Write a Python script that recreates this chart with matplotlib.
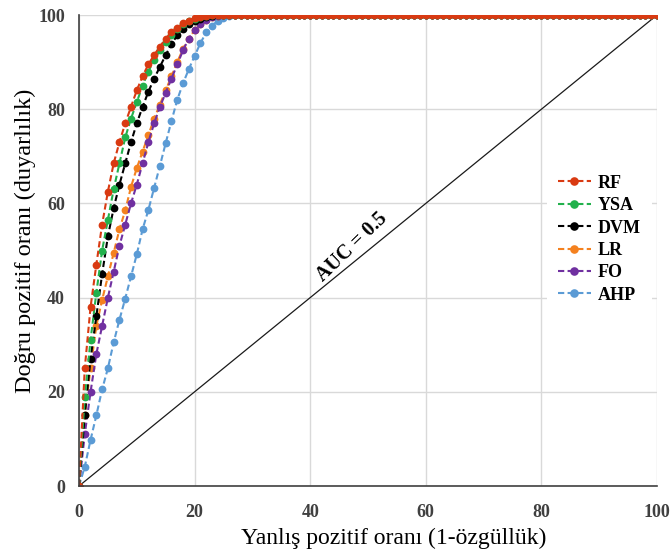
import matplotlib
matplotlib.use("Agg")
import matplotlib.pyplot as plt
from matplotlib.lines import Line2D

# False positive rate (%) sampled at every integer step
fpr = list(range(0, 101))

# True positive rate (%) for each model; curves saturate at 100 after ~x=28
tail = 100.0
rf = [0, 25, 38, 47, 55.5, 62.5, 68.5, 73, 77, 80.5, 84, 87, 89.5, 91.5, 93.3,
      95, 96.3, 97.3, 98.2, 98.8, 99.3, 99.6, 99.8, 99.9, 100, 100, 100, 100, 100]
ysa = [0, 19, 31, 41, 50, 56.5, 63, 68.5, 74, 78, 81.5, 85, 88, 90.5, 92.5,
       94.3, 95.8, 97, 98, 98.7, 99.2, 99.6, 99.8, 99.9, 100, 100, 100, 100, 100]
dvm = [0, 15, 27, 36, 45, 53, 59, 64, 68.5, 73, 77, 80.5, 83.7, 86.5, 89,
       91.5, 93.8, 95.7, 97, 98, 98.7, 99.2, 99.6, 99.8, 99.9, 100, 100, 100, 100]
lr = [0, 15, 25, 34, 39.5, 44.5, 49.5, 54.5, 58.5, 63.5, 67.5, 71, 74.5, 78, 81,
      84, 87, 90, 92.8, 95, 96.8, 98, 99, 99.5, 99.8, 100, 100, 100, 100]
fo = [0, 11, 20, 28, 34, 40, 45.5, 51, 55.5, 60, 64, 68.5, 73, 77, 80.5,
      83.5, 86.5, 89.5, 92.5, 95, 96.8, 98, 99, 99.5, 99.8, 100, 100, 100, 100]
ahp = [0, 4.1, 9.8, 15, 20.5, 25, 30.5, 35.3, 39.8, 44.5, 49.2, 54.5, 58.6, 63.3, 68,
       72.8, 77.5, 82, 85.5, 88.5, 91.3, 94, 96.3, 97.7, 98.8, 99.4, 99.7, 99.9, 100]

series_names = ["RF", "YSA", "DVM", "LR", "FO", "AHP"]
series_vals = [rf, ysa, dvm, lr, fo, ahp]
series_vals = [v + [tail] * (len(fpr) - len(v)) for v in series_vals]
colors = ["#d93a12", "#22b14c", "#000000", "#f4811f", "#7030a0", "#5b9bd5"]
z_order = [8, 7, 6, 4, 5, 3]

ticks = [0, 20, 40, 60, 80, 100]
diag = [0, 100]

plt.rcParams["font.family"] = ["Liberation Serif", "DejaVu Serif"]

fig = plt.figure(figsize=(6.7, 5.54), dpi=100)
ax = fig.add_axes([0.1179, 0.1227, 0.8627, 0.8502])

dash = (0, (3, 1.6))
for name, vals, c, z in zip(series_names, series_vals, colors, z_order):
    ax.plot(fpr, vals, color=c, linestyle=dash, linewidth=1.5,
            marker="o", markersize=5.6, markeredgewidth=0, zorder=z)

# Chance line
ax.plot(diag, diag, color="#1a1a1a", linewidth=0.9, zorder=2)
ax.text(47.2, 50.8, "AUC = 0.5", fontsize=14.5, fontweight="bold",
        rotation=44, rotation_mode="anchor",
        ha="center", va="center", zorder=9)

ax.set_xlim(0, 100)
ax.set_ylim(0, 100)
ax.set_xticks(ticks)
ax.set_yticks(ticks)
ax.set_xticklabels([str(t) for t in ticks], fontsize=13, fontweight="bold",
                   color="#404040")
ax.set_yticklabels([str(t) for t in ticks], fontsize=13, fontweight="bold",
                   color="#404040")
ax.tick_params(axis="x", length=0, pad=13)
ax.tick_params(axis="y", length=0, pad=10)
ax.grid(True, color="#d9d9d9", linewidth=1.0)
ax.set_axisbelow(True)
for s in ["top", "right"]:
    ax.spines[s].set_visible(False)
for s in ["left", "bottom"]:
    ax.spines[s].set_color("#404040")
    ax.spines[s].set_linewidth(1.2)
    ax.spines[s].set_zorder(10)

ax.set_xlabel("Yanlış pozitif oranı (1-özgüllük)", fontsize=17)
ax.xaxis.set_label_coords(0.545, -0.088)
ax.set_ylabel("Doğru pozitif oranı (duyarlılık)", fontsize=17.5)
ax.yaxis.set_label_coords(-0.074, 0.52)

handles = [Line2D([], [], color=c, linestyle=dash, linewidth=1.5,
                  marker="o", markersize=6.2, markeredgewidth=0)
           for c in colors]
leg = ax.legend(handles, series_names, loc="center left",
                bbox_to_anchor=(0.81, 0.524), borderaxespad=0.0,
                frameon=True, fancybox=False,
                edgecolor="none", facecolor="white", framealpha=1.0,
                prop={"weight": "bold", "size": 13}, handlelength=1.8,
                handletextpad=0.4, labelspacing=0.3, borderpad=0.6)
leg.set_zorder(11)

fig.savefig("out.png", dpi=100)
